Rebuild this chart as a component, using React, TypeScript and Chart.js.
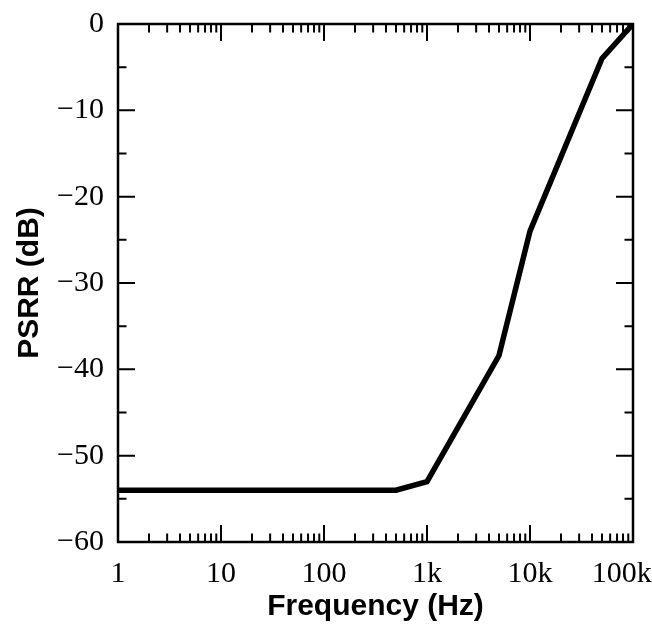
import { useEffect, useRef } from 'react';
import { Chart, registerables } from 'chart.js';

Chart.register(...registerables);

// Data
const frequencies = [1, 500, 1000, 5000, 10000, 50000, 100000];
const psrrDb = [-54, -54, -53, -38.4, -24, -4, 0];

// Axis ticks
const xTickValues = [1, 10, 100, 1000, 10000, 100000];
const xTickLabels = ['1', '10', '100', '1k', '10k', '100k'];
const yTickValues = [0, -10, -20, -30, -40, -50, -60];
const yTickLabels = ['0', '\u221210', '\u221220', '\u221230', '\u221240', '\u221250', '\u221260'];
const xMinorMultipliers = [2, 3, 4, 5, 6, 7, 8, 9];
const yMinorValues = [-5, -15, -25, -35, -45, -55];

const framePlugin = {
  id: 'frameTicks',
  afterDraw(chart: any) {
    const { ctx, chartArea } = chart;
    const { left, right, top, bottom } = chartArea;
    const x = chart.scales.x;
    const y = chart.scales.y;
    const major = 17;
    const minor = 8.5;
    ctx.save();
    ctx.strokeStyle = '#000';
    ctx.lineWidth = 2;
    ctx.beginPath();
    xTickValues.forEach((d) => {
      const px = x.getPixelForValue(d);
      ctx.moveTo(px, bottom);
      ctx.lineTo(px, bottom - major);
      ctx.moveTo(px, top);
      ctx.lineTo(px, top + major);
      if (d < 100000) {
        xMinorMultipliers.forEach((m) => {
          const mx = x.getPixelForValue(d * m);
          ctx.moveTo(mx, bottom);
          ctx.lineTo(mx, bottom - minor);
          ctx.moveTo(mx, top);
          ctx.lineTo(mx, top + minor);
        });
      }
    });
    yTickValues.forEach((v) => {
      const py = y.getPixelForValue(v);
      ctx.moveTo(left, py);
      ctx.lineTo(left + major, py);
      ctx.moveTo(right, py);
      ctx.lineTo(right - major, py);
    });
    yMinorValues.forEach((v) => {
      const py = y.getPixelForValue(v);
      ctx.moveTo(left, py);
      ctx.lineTo(left + minor, py);
      ctx.moveTo(right, py);
      ctx.lineTo(right - minor, py);
    });
    ctx.stroke();
    ctx.lineWidth = 2.5;
    ctx.strokeRect(left, top, right - left, bottom - top);
    ctx.restore();
  },
};

export default function App() {
  const canvasRef = useRef<HTMLCanvasElement | null>(null);

  useEffect(() => {
    if (!canvasRef.current) return;
    const chart = new Chart(canvasRef.current, {
      type: 'line',
      data: {
        datasets: [
          {
            data: frequencies.map((f, i) => ({ x: f, y: psrrDb[i] })),
            borderColor: '#000',
            borderWidth: 5.5,
            pointRadius: 0,
            tension: 0,
            fill: false,
          },
        ],
      },
      options: {
        responsive: false,
        animation: false,
        layout: { padding: { top: 24, right: 19, left: 0, bottom: 0 } },
        plugins: { legend: { display: false }, tooltip: { enabled: false } },
        scales: {
          x: {
            type: 'logarithmic',
            min: 1,
            max: 100000,
            afterBuildTicks: (s: any) => {
              s.ticks = xTickValues.map((v) => ({ value: v }));
            },
            afterFit: (s: any) => {
              s.height = 83;
              s.paddingLeft = 0;
              s.paddingRight = 0;
            },
            grid: { display: false },
            border: { display: false },
            ticks: {
              autoSkip: false,
              maxRotation: 0,
              minRotation: 0,
              padding: 6,
              color: '#000',
              font: { family: 'Liberation Serif', size: 30, lineHeight: 1.2 },
              callback: (v: any) => {
                const i = xTickValues.indexOf(Number(v));
                if (i < 0) return '';
                return i === xTickValues.length - 1 ? xTickLabels[i] + '   ' : xTickLabels[i];
              },
            },
            title: {
              display: true,
              text: 'Frequency (Hz)',
              color: '#000',
              font: { family: 'Liberation Sans', size: 30, weight: 'bold', lineHeight: 1.2 },
              padding: { top: 0, bottom: 0 },
            },
          },
          y: {
            type: 'linear',
            min: -60,
            max: 0,
            afterBuildTicks: (s: any) => {
              s.ticks = yTickValues.map((v) => ({ value: v }));
            },
            afterFit: (s: any) => {
              s.width = 118;
            },
            grid: { display: false },
            border: { display: false },
            ticks: {
              padding: 6,
              color: '#000',
              font: { family: 'Liberation Serif', size: 30, lineHeight: 1.2 },
              callback: (v: any) => {
                const i = yTickValues.indexOf(Number(v));
                return i < 0 ? '' : yTickLabels[i];
              },
            },
            title: {
              display: true,
              text: 'PSRR (dB)',
              color: '#000',
              font: { family: 'Liberation Sans', size: 30, weight: 'bold', lineHeight: 1.2 },
              padding: { top: 12, bottom: 0 },
            },
          },
        },
      },
      plugins: [framePlugin],
    } as any);
    return () => chart.destroy();
  }, []);

  return (
    <div style={{ position: 'fixed', left: 0, top: 0, width: 652, height: 625, background: '#fff' }}>
      <canvas ref={canvasRef} width={652} height={625} style={{ display: 'block' }} />
    </div>
  );
}
